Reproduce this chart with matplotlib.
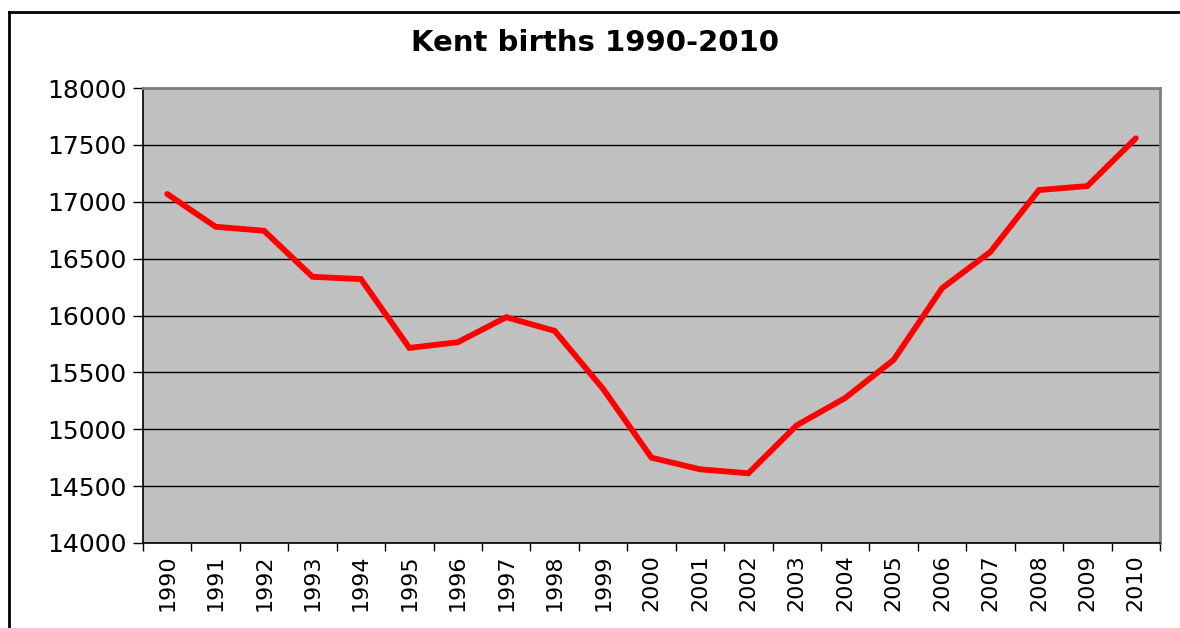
import numpy as np
import matplotlib.pyplot as plt
from matplotlib.lines import Line2D

years = [str(y) for y in range(1990, 2011)]
births = [17068, 16780, 16745, 16340, 16320, 15715, 15765, 15985, 15865, 15355,
          14750, 14648, 14613, 15035, 15275, 15610, 16240, 16560, 17103, 17138, 17558]
y_ticks = [14000, 14500, 15000, 15500, 16000, 16500, 17000, 17500, 18000]

fig = plt.figure(figsize=(11.8, 6.28), dpi=100)
ax = fig.add_axes([143 / 1180, 85 / 628, 1017 / 1180, 455 / 628])
ax.set_facecolor('#c0c0c0')

x = np.arange(len(years))
ax.plot(x, births, color='#ff0000', lw=4.2, solid_capstyle='round', solid_joinstyle='miter', zorder=3)

ax.set_xlim(-0.5, len(years) - 0.5)
ax.set_ylim(y_ticks[0], y_ticks[-1])
ax.set_yticks(y_ticks)
ax.set_yticklabels([str(v) for v in y_ticks], fontsize=18)
ax.yaxis.grid(True, color='black', lw=1)
ax.set_axisbelow(True)
ax.tick_params(axis='y', length=7, width=1, pad=5, direction='out')

# category labels centred, tick marks on boundaries
ax.set_xticks(x)
ax.set_xticklabels(years, rotation=90, fontsize=16)
ax.tick_params(axis='x', which='major', length=0, pad=8)
ax.set_xticks(np.arange(-0.5, len(years)), minor=True)
ax.tick_params(axis='x', which='minor', length=6, width=1, direction='out')

for side in ['top', 'right']:
    ax.spines[side].set_color('#808080')
    ax.spines[side].set_linewidth(2)
for side in ['left', 'bottom']:
    ax.spines[side].set_color('black')
    ax.spines[side].set_linewidth(1.2)

fig.text(0.504, 0.931, 'Kent births 1990-2010', ha='center', va='center',
         fontsize=21, fontweight='bold')

# chart frame, running off the right and bottom edge
fig.add_artist(Line2D([9 / 1180, 1.0], [1 - 12 / 628, 1 - 12 / 628], color='black', lw=2))
fig.add_artist(Line2D([9 / 1180, 9 / 1180], [0.0, 1 - 12 / 628], color='black', lw=2))

fig.savefig('out.png', dpi=100)
